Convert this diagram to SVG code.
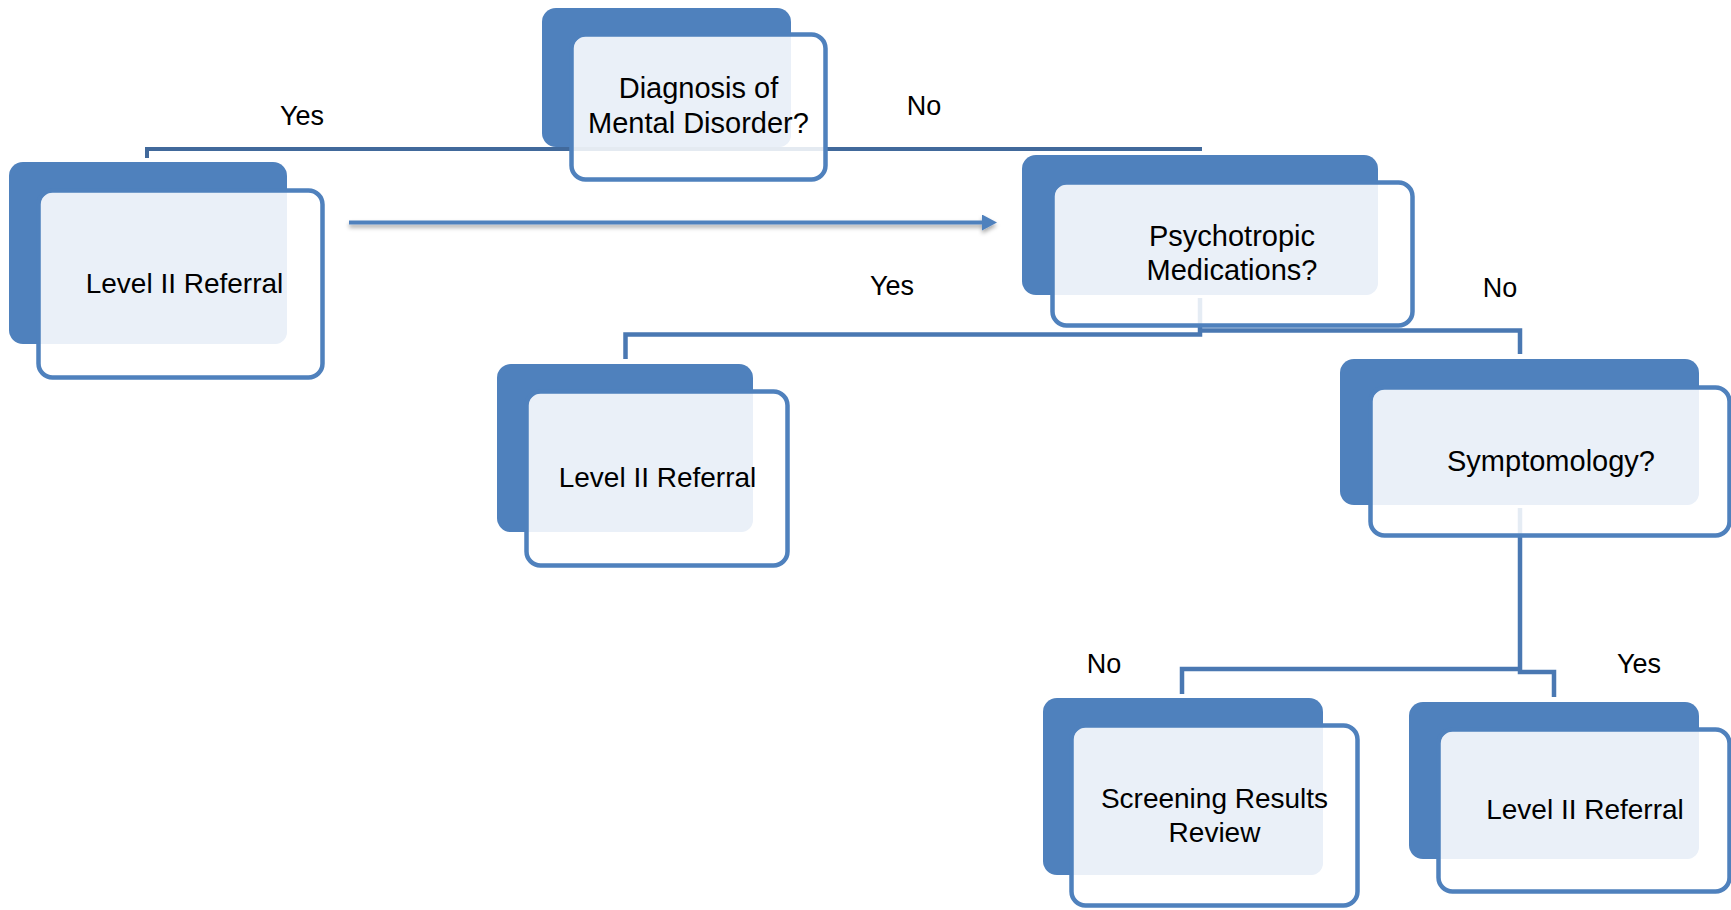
<svg xmlns="http://www.w3.org/2000/svg" width="1731" height="910" viewBox="0 0 1731 910">
<style>
.back{fill:#4F81BD}
.front{fill:#FFFFFF;fill-opacity:0.86;stroke:#4F81BD;stroke-width:4.5}
.light{fill:#EAF0F8}
.t{font-family:"Liberation Sans",Arial,sans-serif;fill:#000000;text-anchor:middle}
.n28{font-size:28px}
.n29{font-size:29px}
.lab{font-size:27px}
.conn{fill:none;stroke:#4A78B2;stroke-width:4.5}
.dark{stroke:#41699B;stroke-width:4}
</style>
<defs>
<marker id="ah" markerUnits="userSpaceOnUse" markerWidth="16" markerHeight="16" refX="3" refY="8" orient="auto">
<path d="M0,0 L15,8 L0,16 Z" fill="#4F81BD"/>
</marker>
<filter id="sh" filterUnits="userSpaceOnUse" x="320" y="195" width="700" height="60">
<feDropShadow dx="0" dy="3" stdDeviation="2" flood-color="#000000" flood-opacity="0.35"/>
</filter>
</defs>
<rect width="1731" height="910" fill="#FFFFFF"/>
<g id="connectors">
<path class="conn dark" d="M147,158 V149 H1202"/>
<path class="conn" d="M1200,298 V334.5 H625.5 V359"/>
<path class="conn" d="M1200,330.5 H1520 V354"/>
<path class="conn" d="M1520,508 V672 H1554 V697"/>
<path class="conn" d="M1520,669 H1182 V694"/>
<path fill="none" stroke="#4F81BD" stroke-width="4" d="M349,222.5 H985" marker-end="url(#ah)" filter="url(#sh)"/>
</g>
<g id="node-diagnosis">
<rect class="back" x="542" y="8" width="249" height="139" rx="14"/>
<rect class="front" x="571.5" y="34.5" width="254" height="145" rx="14"/>
<path class="light" d="M574,49 A12 12 0 0 1 586,37 H791 V135 A12 12 0 0 1 779,147 H574 Z"/>
<text class="t n29" x="698.5" y="98">Diagnosis of</text>
<text class="t n29" x="698.5" y="133">Mental Disorder?</text>
</g>
<g id="node-referral-left">
<rect class="back" x="9" y="162" width="278" height="182" rx="14"/>
<rect class="front" x="38.5" y="190.5" width="284" height="187" rx="14"/>
<path class="light" d="M41,205 A12 12 0 0 1 53,193 H287 V332 A12 12 0 0 1 275,344 H41 Z"/>
<text class="t n28" x="184.5" y="293">Level II Referral</text>
</g>
<g id="node-psychotropic">
<rect class="back" x="1022" y="155" width="356" height="140" rx="14"/>
<rect class="front" x="1052.5" y="182.5" width="360" height="143" rx="14"/>
<path class="light" d="M1055,197 A12 12 0 0 1 1067,185 H1378 V283 A12 12 0 0 1 1366,295 H1055 Z"/>
<text class="t n29" x="1232" y="246">Psychotropic</text>
<text class="t n29" x="1232" y="280">Medications?</text>
</g>
<g id="node-referral-middle">
<rect class="back" x="497" y="364" width="256" height="168" rx="14"/>
<rect class="front" x="526.5" y="391.5" width="261" height="174" rx="14"/>
<path class="light" d="M529,406 A12 12 0 0 1 541,394 H753 V520 A12 12 0 0 1 741,532 H529 Z"/>
<text class="t n28" x="657.5" y="487">Level II Referral</text>
</g>
<g id="node-symptomology">
<rect class="back" x="1340" y="359" width="359" height="146" rx="14"/>
<rect class="front" x="1370.5" y="387.5" width="359" height="148" rx="14"/>
<path class="light" d="M1373,402 A12 12 0 0 1 1385,390 H1699 V493 A12 12 0 0 1 1687,505 H1373 Z"/>
<text class="t n29" x="1551" y="471">Symptomology?</text>
</g>
<g id="node-screening">
<rect class="back" x="1043" y="698" width="280" height="177" rx="14"/>
<rect class="front" x="1071.5" y="725.5" width="286" height="180" rx="14"/>
<path class="light" d="M1074,740 A12 12 0 0 1 1086,728 H1323 V863 A12 12 0 0 1 1311,875 H1074 Z"/>
<text class="t n28" x="1214.5" y="808">Screening Results</text>
<text class="t n28" x="1214.5" y="842">Review</text>
</g>
<g id="node-referral-right">
<rect class="back" x="1409" y="702" width="290" height="157" rx="14"/>
<rect class="front" x="1438.5" y="729.5" width="291" height="162" rx="14"/>
<path class="light" d="M1441,744 A12 12 0 0 1 1453,732 H1699 V847 A12 12 0 0 1 1687,859 H1441 Z"/>
<text class="t n28" x="1585" y="819">Level II Referral</text>
</g>
<g id="labels">
<text class="t lab" x="302" y="125">Yes</text>
<text class="t lab" x="924" y="115">No</text>
<text class="t lab" x="892" y="295">Yes</text>
<text class="t lab" x="1500" y="297">No</text>
<text class="t lab" x="1104" y="673">No</text>
<text class="t lab" x="1639" y="673">Yes</text>
</g>
</svg>
